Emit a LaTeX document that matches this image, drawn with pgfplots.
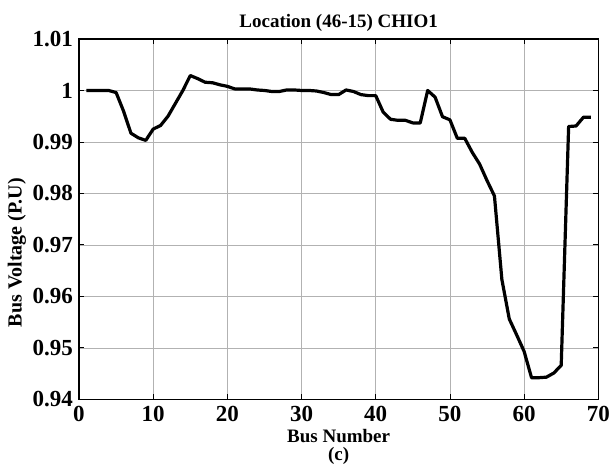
\documentclass[border=0pt]{standalone}
\usepackage{pgfplots}
\pgfplotsset{compat=1.18}
\usepackage{fontspec}
\setmainfont{Liberation Serif}
\pgfplotstableread{
bus V
1 1.0000
2 1.0000
3 1.0000
4 1.0000
5 0.9996
6 0.9960
7 0.9917
8 0.9908
9 0.9903
10 0.9925
11 0.9932
12 0.9950
13 0.9975
14 1.0000
15 1.0029
16 1.0023
17 1.0016
18 1.0015
19 1.0011
20 1.0008
21 1.0003
22 1.0003
23 1.0003
24 1.0001
25 1.0000
26 0.9998
27 0.9998
28 1.0001
29 1.0001
30 1.0000
31 1.0000
32 0.9999
33 0.9996
34 0.9992
35 0.9992
36 1.0001
37 0.9998
38 0.9992
39 0.9990
40 0.9990
41 0.9958
42 0.9944
43 0.9942
44 0.9942
45 0.9937
46 0.9937
47 1.0000
48 0.9987
49 0.9949
50 0.9943
51 0.9907
52 0.9907
53 0.9880
54 0.9857
55 0.9825
56 0.9795
57 0.9633
58 0.9556
59 0.9525
60 0.9493
61 0.9442
62 0.9442
63 0.9443
64 0.9451
65 0.9466
66 0.9930
67 0.9931
68 0.9948
69 0.9948
}\datatable
\begin{document}
\begin{tikzpicture}
\useasboundingbox (-79pt,-64.7pt) rectangle (530pt,399.3pt);
\begin{axis}[
  at={(0,0)}, anchor=south west,
  scale only axis, width=519.3pt, height=360.3pt,
  xmin=0, xmax=70, ymin=0.94, ymax=1.01,
  xtick={0,10,20,30,40,50,60,70},
  ytick={0.94,0.95,0.96,0.97,0.98,0.99,1.00,1.01},
  yticklabels={0.94,0.95,0.96,0.97,0.98,0.99,1,1.01},
  xtick pos=both, ytick pos=both, tick align=inside,
  major tick length=5pt,
  grid=major, major grid style={gray!60, line width=0.6pt},
  axis line style={line width=1.2pt},
  tick style={black, line width=0.8pt},
  /pgf/number format/assume math mode=true,
  ticklabel style={font=\fontsize{23}{23}\selectfont\bfseries},
  xticklabel style={inner sep=0pt, yshift=-7pt},
  yticklabel style={inner sep=0pt, xshift=-6pt},
  clip=false,
]
\addplot[black, line width=3.2pt, line join=round] table[x=bus, y=V] {\datatable};
\node[anchor=base, font=\fontsize{19}{19}\selectfont\bfseries] at (rel axis cs:0.5,1) [yshift=12pt] {Location (46-15) CHIO1};
\node[anchor=base, inner sep=0pt, font=\fontsize{19}{19}\selectfont\bfseries] at (rel axis cs:0.5,0) [yshift=-43pt] {Bus Number};
\node[anchor=base, inner sep=0pt, font=\fontsize{19}{19}\selectfont\bfseries] at (rel axis cs:0.5,0) [yshift=-61pt] {(c)};
\node[rotate=90, font=\fontsize{20}{20}\selectfont\bfseries] at ([xshift=-62pt]rel axis cs:0,0.407) {Bus Voltage (P.U)};
\end{axis}
\end{tikzpicture}
\end{document}
